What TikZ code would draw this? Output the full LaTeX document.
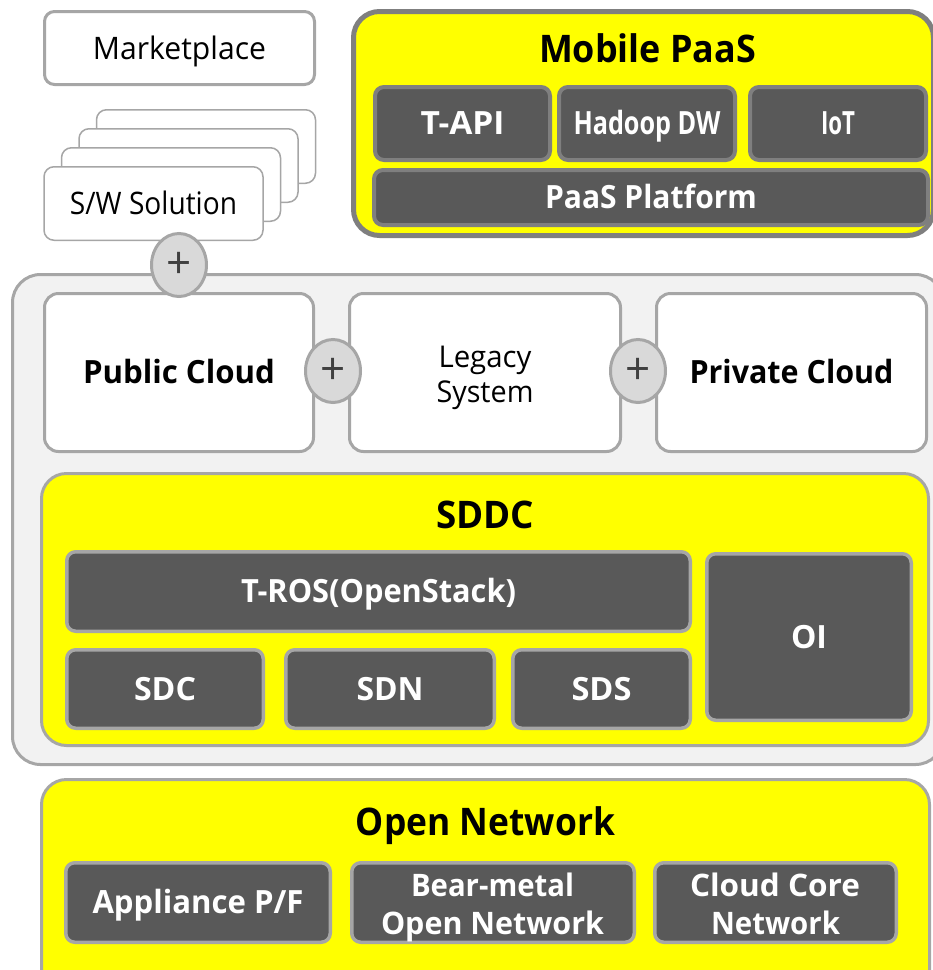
\documentclass[tikz,border=0pt]{standalone}
\usepackage{fontspec}
\setmainfont{Open Sans}
\usetikzlibrary{shapes.geometric}

\definecolor{edgegray}{HTML}{A6A6A6}
\definecolor{darkedge}{HTML}{7F7F7F}
\definecolor{darkfill}{HTML}{595959}
\definecolor{panelfill}{HTML}{F2F2F2}
\definecolor{plusfill}{HTML}{D9D9D9}
\definecolor{plusink}{HTML}{404040}
\definecolor{hiyellow}{HTML}{FFFF00}

% squeeze a label to a given width (in pt), keeping its height
\newcommand{\fw}[2]{\resizebox{#1pt}{\height}{#2}}

\begin{document}
\begin{tikzpicture}[x=1pt,y=-1pt,
  every node/.style={inner sep=0pt, outer sep=0pt},
  regtext/.style={font=\fontsize{31}{36}\selectfont, text=black, text height=22.1pt, text depth=0pt},
  boldtext/.style={font=\bfseries\fontsize{32}{38}\selectfont, text height=22.8pt, text depth=0pt},
  titletext/.style={font=\bfseries\fontsize{38}{44}\selectfont, text=black, anchor=base},
  linetext/.style={anchor=base},
  whitebox/.style={rectangle, draw=edgegray, line width=3pt, fill=white, rounded corners=14pt},
  stackbox/.style={rectangle, draw=edgegray, line width=1.5pt, fill=white, rounded corners=10pt,
    minimum width=219pt, minimum height=73.5pt},
  container/.style={rectangle, draw=edgegray, line width=3pt, fill=panelfill, rounded corners=28pt},
  yellowpanel/.style={rectangle, draw=edgegray, line width=3pt, fill=hiyellow, rounded corners=25pt},
  mobilepanel/.style={rectangle, draw=darkedge, line width=5pt, fill=hiyellow, rounded corners=26pt},
  darkbox/.style={rectangle, draw=edgegray, line width=3.5pt, fill=darkfill, rounded corners=9pt,
    boldtext, text=white},
  mobilebox/.style={darkbox, draw=darkedge, line width=4pt},
  plus/.style={ellipse, draw=edgegray, line width=3pt, fill=plusfill,
    minimum width=55pt, minimum height=63pt, text=plusink, font=\fontsize{44}{46}\selectfont}
]
\useasboundingbox (0,0) rectangle (933,970);
\clip (0,0) rectangle (933,970);

% ---------- top left: marketplace and stacked solutions ----------
\node[whitebox, rounded corners=10pt, minimum width=270pt, minimum height=73pt, regtext]
  (market) at (179.5,48) {\fw{173}{Marketplace}};

\node[stackbox] (sw4) at (206,146.5) {};
\node[stackbox] (sw3) at (188.5,165.5) {};
\node[stackbox] (sw2) at (171,184.5) {};
\node[stackbox, regtext] (sw1) at (153.5,203.5) {\fw{167}{S/W Solution}};

% ---------- Mobile PaaS ----------
\node[mobilepanel, minimum width=580pt, minimum height=224pt] (mpaas) at (643.5,123.5) {};
\node[titletext] (mpaastitle) at (647.5,62) {\fw{217}{Mobile PaaS}};
\node[mobilebox, minimum width=175pt, minimum height=73pt] (tapi) at (462.5,123.5) {\fw{84}{T-API}};
\node[mobilebox, minimum width=176pt, minimum height=73pt] (hadoop) at (647,123.5) {\fw{147}{Hadoop DW}};
\node[mobilebox, minimum width=176pt, minimum height=73pt] (iot) at (838,123.5) {\fw{34}{IoT}};
\node[mobilebox, minimum width=554pt, minimum height=55pt] (paas) at (651,197.5) {\fw{212}{PaaS Platform}};

% ---------- cloud container ----------
\node[container, minimum width=931pt, minimum height=490pt] (cloudarea) at (478,519.5) {};

\node[whitebox, minimum width=269pt, minimum height=158pt, boldtext, text=black]
  (public) at (179,372.5) {\fw{192}{Public Cloud}};
\node[whitebox, minimum width=271pt, minimum height=158pt] (legacy) at (485,372.5) {};
\node[linetext, font=\fontsize{30}{35}\selectfont] (legacy1) at (485,367) {\fw{93}{Legacy}};
\node[linetext, font=\fontsize{30}{35}\selectfont] (legacy2) at (485,402) {\fw{97}{System}};
\node[whitebox, minimum width=270pt, minimum height=158pt, boldtext, text=black]
  (private) at (791.5,372.5) {\fw{204}{Private Cloud}};

% ---------- SDDC ----------
\node[yellowpanel, minimum width=887pt, minimum height=272pt] (sddc) at (485,609.5) {};
\node[titletext] (sddctitle) at (485,528) {\fw{98}{SDDC}};
\node[darkbox, minimum width=623.5pt, minimum height=79.5pt] (tros) at (378.5,591.5) {\fw{275}{T-ROS(OpenStack)}};
\node[darkbox, minimum width=204.5pt, minimum height=166.5pt] (oi) at (809,637) {\fw{36}{OI}};
\node[darkbox, minimum width=196.5pt, minimum height=78.5pt] (sdc) at (165,689) {\fw{62}{SDC}};
\node[darkbox, minimum width=208.5pt, minimum height=78.5pt] (sdn) at (390,689) {\fw{67}{SDN}};
\node[darkbox, minimum width=177.5pt, minimum height=78.5pt] (sds) at (601.5,689) {\fw{60}{SDS}};

% ---------- Open Network ----------
\node[yellowpanel, minimum width=888pt, minimum height=221pt] (opennet) at (485.5,890) {};
\node[titletext] (opentitle) at (485.5,835) {\fw{259}{Open Network}};
\node[darkbox, minimum width=264.5pt, minimum height=79.5pt] (appliance) at (198,902.5) {\fw{211}{Appliance P/F}};
\node[darkbox, minimum width=282.5pt, minimum height=79.5pt] (bearmetal) at (493,902.5) {};
\node[linetext, text=white, font=\bfseries\fontsize{31}{36}\selectfont] (bear1) at (492.5,896.7) {\fw{163}{Bear-metal}};
\node[linetext, text=white, font=\bfseries\fontsize{31}{36}\selectfont] (bear2) at (492.5,934) {\fw{223}{Open Network}};
\node[darkbox, minimum width=241.5pt, minimum height=79.5pt] (cloudcore) at (775.5,902.5) {};
\node[linetext, text=white, font=\bfseries\fontsize{31}{36}\selectfont] (core1) at (775,896.7) {\fw{170}{Cloud Core}};
\node[linetext, text=white, font=\bfseries\fontsize{31}{36}\selectfont] (core2) at (775.5,934) {\fw{129}{Network}};

% ---------- joining "+" markers ----------
\node[plus] (plustop) at (179,265) {+};
\node[plus] (plusleft) at (333,371) {+};
\node[plus] (plusright) at (638,371) {+};
\end{tikzpicture}
\end{document}
